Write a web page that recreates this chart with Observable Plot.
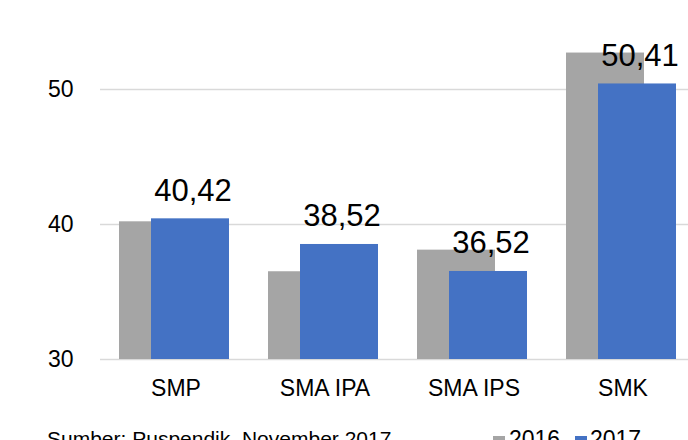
<!DOCTYPE html>
<html>
<head>
<meta charset="utf-8">
<script src="https://cdn.jsdelivr.net/npm/d3@7"></script>
<script src="https://cdn.jsdelivr.net/npm/@observablehq/plot@0.6"></script>
<style>
  html, body { margin: 0; padding: 0; background: #fff; overflow: hidden; }
  #chart svg { display: block; }
  .foot { position: relative; height: 20px; font-family: "Liberation Sans", Arial, sans-serif; font-size: 22px; line-height: 22px; color: #000; }
  .foot span { position: absolute; white-space: nowrap; }
  .sw { position: absolute; width: 12px; height: 12px; }
</style>
</head>
<body>
<div id="chart"></div>
<div class="foot" id="foot"></div>
<script>
const categories = ["SMP", "SMA IPA", "SMA IPS", "SMK"];
const values2016 = [40.2, 36.5, 38.1, 52.7];
const values2017 = [40.42, 38.52, 36.52, 50.41];
const labels2017 = ["40,42", "38,52", "36,52", "50,41"];
const yTicks = [30, 40, 50];
const seriesNames = ["2016", "2017"];
const seriesColors = ["#a5a5a5", "#4472c4"];
const caption = "Sumber: Puspendik, November 2017";

const d16 = categories.map((c, i) => ({cat: c, value: values2016[i]}));
const d17 = categories.map((c, i) => ({cat: c, value: values2017[i], label: labels2017[i]}));

const H = 426;
const font = "Liberation Sans, Arial, sans-serif";

const chart = Plot.plot({
  width: 688,
  height: H,
  marginLeft: 100,
  marginRight: 0,
  marginTop: 0,
  marginBottom: 0,
  style: {fontFamily: font, fontSize: "22px", color: "#000", background: "#fff"},
  x: {domain: categories, range: [101, 697], padding: 0, axis: null},
  y: {domain: [30, 50], range: [359, 89], axis: null},
  marks: [
    Plot.ruleY(yTicks, {stroke: "#d9d9d9", strokeWidth: 1.5}),
    Plot.text(yTicks, {x: () => categories[0], y: d => d, text: d => String(d), textAnchor: "end", dx: -46 - 74.5 + 18, fontSize: 23, fill: "#000"}),
    Plot.barY(d16, {x: "cat", y1: 30, y2: "value", fill: seriesColors[0], insetLeft: 18, insetRight: 53}),
    Plot.barY(d17, {x: "cat", y1: 30, y2: "value", fill: seriesColors[1], insetLeft: 50, insetRight: 21}),
    Plot.text(d17, {x: "cat", y: "value", text: "label", dx: 17, dy: -28, fontSize: 31, fill: "#000"}),
    Plot.text(categories, {x: d => d, y: 30, text: d => d, dy: 29, fontSize: 23, fill: "#000"})
  ]
});
document.getElementById("chart").appendChild(chart);

const foot = document.getElementById("foot");
const cap = document.createElement("span");
cap.textContent = caption;
cap.style.left = "47px"; cap.style.top = "2px"; cap.style.fontSize = "21px";
foot.appendChild(cap);
const sw = [[493, 509], [575, 590]];
seriesNames.forEach((name, i) => {
  const s = document.createElement("div");
  s.className = "sw";
  s.style.left = sw[i][0] + "px"; s.style.top = "10px";
  s.style.background = seriesColors[i];
  foot.appendChild(s);
  const t = document.createElement("span");
  t.textContent = name;
  t.style.left = sw[i][1] + "px"; t.style.top = "2px"; t.style.fontSize = "23px";
  foot.appendChild(t);
});
</script>
</body>
</html>
